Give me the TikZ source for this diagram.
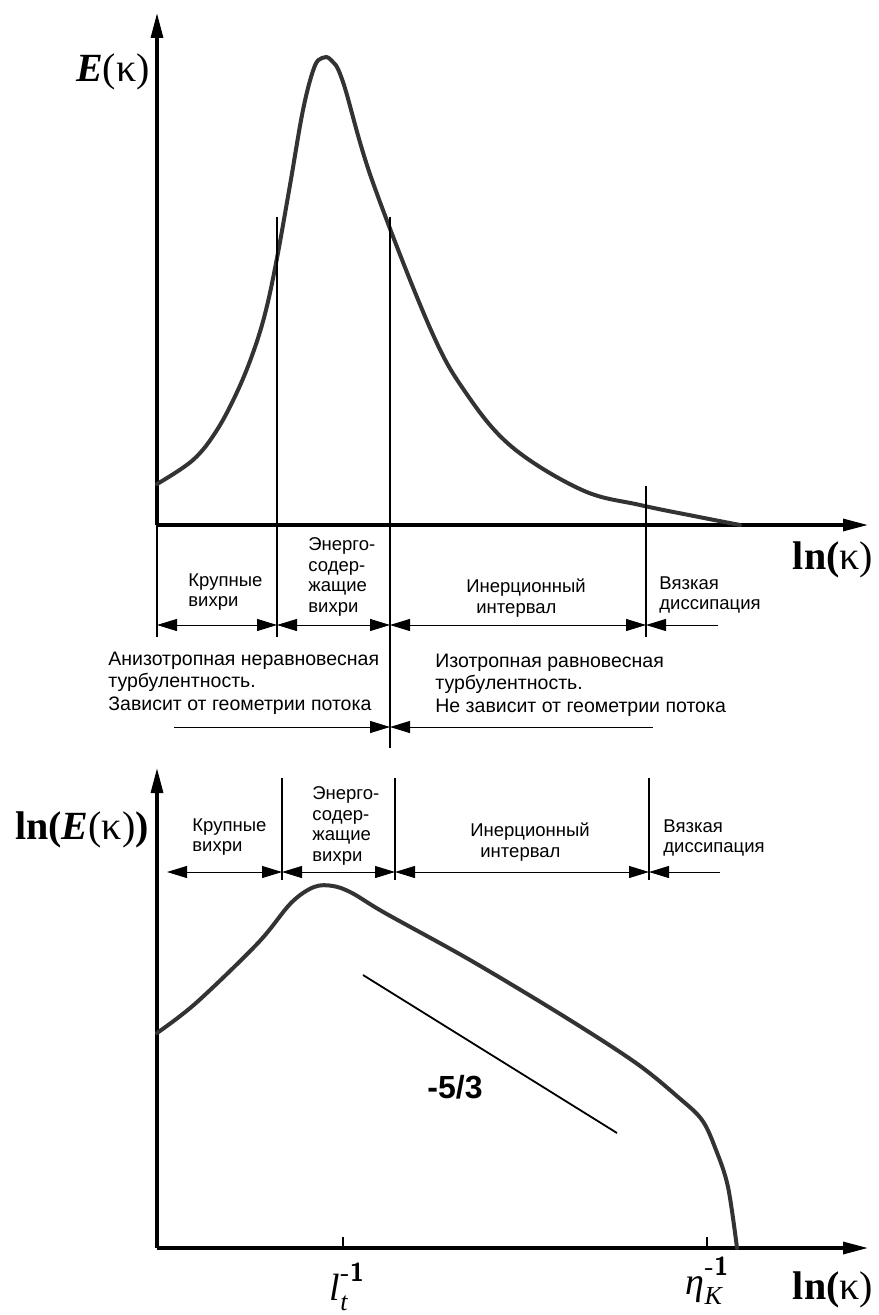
\documentclass[tikz,border=0pt]{standalone}
\usepackage{fontspec}
\setmainfont{Liberation Sans}
\newfontfamily\tnr{Liberation Serif}
\usepackage{tikz}
\usetikzlibrary{arrows,arrows.meta,positioning}
\newcommand{\mKappa}{{\tnr\mdseries\upshape κ}}
\newcommand{\mBig}{\tnr\fontsize{20}{24}\selectfont}
\newcommand{\mInv}[2]{{\tnr\fontsize{19}{22}\selectfont\itshape #1\rlap{\raisebox{-5pt}{\fontsize{13}{13}\selectfont #2}}\raisebox{9.5pt}{\fontsize{13}{13}\selectfont\upshape\sffamily\bfseries -1}}}
\newcommand{\mBound}[4]{\coordinate (#1t) at (#2,#3); \coordinate (#1b) at (#2,#4); \draw[sep] (#1t) -- (#1b)}
\tikzset{
  axis/.style={line width=1.6pt,-{Triangle[length=12.5pt,width=6pt]}},
  spec/.style={line width=2pt,draw=black!80,line join=round,line cap=round},
  sep/.style={line width=0.7pt},
  span/.style={line width=0.5pt,{Triangle[length=10pt,width=6pt]}-{Triangle[length=10pt,width=6pt]}},
  spanto/.style={line width=0.5pt,-{Triangle[length=10pt,width=6pt]}},
  zone/.style={font=\fontsize{9.25}{10.25}\selectfont,align=left,inner sep=0pt,anchor=west},
  note/.style={font=\fontsize{9.75}{11.25}\selectfont,align=left,inner sep=0pt,anchor=west},
}
\begin{document}
\begin{tikzpicture}[x=0.5pt,y=-0.5pt]
  \useasboundingbox (0,0) rectangle (878,1315);
  % upper plot: E(k)
  \coordinate (o1) at (157,525);
  \coordinate (y1) at (157,13);
  \coordinate (x1) at (868,525);
  \draw[axis] (o1) -- (y1);
  \draw[axis] (o1) -- (x1);
  \node (lblE) at (113,72) {\mBig\textbf{\textit{E}}(\mKappa)};
  \node (lblLn1) at (833,560) {\mBig\textbf{ln(}\mKappa)};
  \draw[spec] plot[smooth,tension=0.6] coordinates {(157,484) (193,460) (217,430) (238,390) (254,350) (266,310) (277,258) (290,185) (303,110) (314,68) (322,58) (331,60) (343,82) (372,180) (430,328) (466,393) (512,447) (582,490) (640,505) (699,517) (740,525)};
  \mBound{a1}{157}{525}{637};
  \mBound{a2}{277}{217}{637};
  \mBound{a3}{390}{217}{748};
  \mBound{a4}{646}{486}{637};
  \coordinate (d1) at (0,625);
  \coordinate (e1) at (718,625);
  \draw[span] (a1b |- d1) -- (a2b |- d1);
  \draw[span] (a2b |- d1) -- (a3b |- d1);
  \draw[span] (a3b |- d1) -- (a4b |- d1);
  \draw[spanto] (e1) -- (a4b |- d1);
  \node[zone] (big1) at (188,592) {Крупные\\вихри};
  \node[zone] (eng1) at (308,577) {Энерго-\\содер-\\жащие\\вихри};
  \node[zone] (inr1) at (466,598) {Инерционный\\\hspace{5pt}интервал};
  \node[zone] (vis1) at (659,595) {Вязкая\\диссипация};
  \node[note] (aniso) at (108,683) {Анизотропная неравновесная\\турбулентность.\\Зависит от геометрии потока};
  \node[note] (iso) at (435,685) {Изотропная равновесная\\турбулентность.\\Не зависит от геометрии потока};
  \coordinate (f1) at (174,727);
  \coordinate (f2) at (653,727);
  \draw[spanto] (f1) -- (a3b |- f1);
  \draw[spanto] (f2) -- (a3b |- f2);
  % lower plot: ln E(k)
  \coordinate (o2) at (157,1248);
  \coordinate (y2) at (157,768);
  \coordinate (x2) at (868,1248);
  \draw[axis] (o2) -- (y2);
  \draw[axis] (o2) -- (x2);
  \node (lblLnE) at (82,830) {\mBig\textbf{ln(\textit{E}}(\mKappa)\textbf{)}};
  \node (lblLn2) at (833,1290) {\mBig\textbf{ln(}\mKappa)};
  \draw[spec] plot[smooth,tension=0.55] coordinates {(157,1033) (196,1003) (258,943) (291,903) (314,887) (333,886) (352,893) (385,913) (470,960) (565,1017) (636,1063) (678,1097) (702,1120) (716,1150) (728,1187) (737,1248)};
  \mBound{b1}{282}{778}{880};
  \mBound{b2}{395}{778}{880};
  \mBound{b3}{649}{778}{880};
  \coordinate (d2) at (167,872);
  \coordinate (e2) at (720,872);
  \draw[span] (d2) -- (b1b |- d2);
  \draw[span] (b1b |- d2) -- (b2b |- d2);
  \draw[span] (b2b |- d2) -- (b3b |- d2);
  \draw[spanto] (e2) -- (b3b |- d2);
  \node[zone] (big2) at (192,837) {Крупные\\вихри};
  \node[zone] (eng2) at (312,826) {Энерго-\\содер-\\жащие\\вихри};
  \node[zone] (inr2) at (470,842) {Инерционный\\\hspace{5pt}интервал};
  \node[zone] (vis2) at (663,838) {Вязкая\\диссипация};
  \coordinate (s1) at (363,975);
  \coordinate (s2) at (617,1133);
  \draw[line width=0.9pt] (s1) -- (s2);
  \node[font=\fontsize{16}{19}\selectfont\bfseries] (slope) at (455,1087) {-5/3};
  \coordinate (t1) at (343,1248);
  \coordinate (t2) at (707,1248);
  \draw[line width=0.8pt] (t1) -- ++(0,-11) coordinate (t1u);
  \draw[line width=0.8pt] (t2) -- ++(0,-11) coordinate (t2u);
  \node[anchor=base] (lblL) at (347,1300) {\mInv{l}{t}};
  \node[anchor=base] (lblEta) at (707,1294) {\mInv{η}{K}};
\end{tikzpicture}
\end{document}
